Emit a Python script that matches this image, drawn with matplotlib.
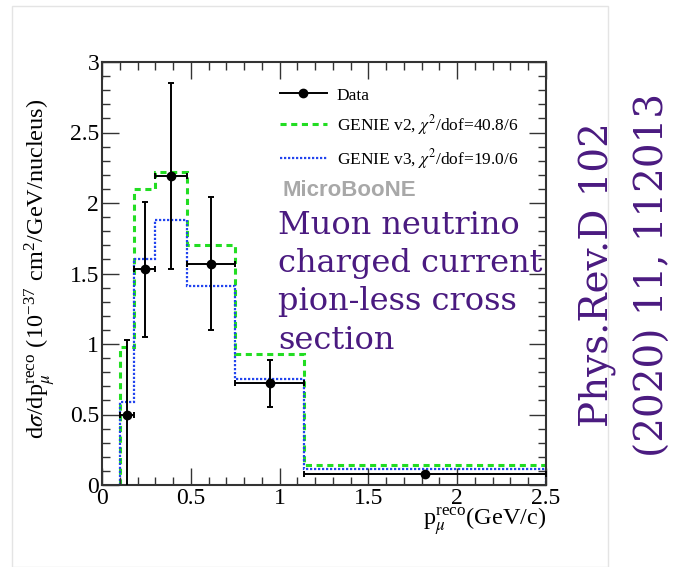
import numpy as np
import matplotlib.pyplot as plt
from matplotlib.lines import Line2D
from matplotlib.patches import Rectangle

plt.rcParams['mathtext.fontset'] = 'stix'

# bin edges in reconstructed muon momentum (GeV/c)
edges = [0.1, 0.18, 0.3, 0.48, 0.75, 1.14, 2.5]
# measured cross section and its uncertainty
data_y = [0.50, 1.53, 2.19, 1.57, 0.72, 0.075]
data_err = [0.53, 0.48, 0.66, 0.47, 0.165, 0.01]
# generator predictions
genie_v2 = [0.98, 2.10, 2.22, 1.70, 0.93, 0.14]
genie_v3 = [0.59, 1.60, 1.88, 1.41, 0.75, 0.11]

edges_a = np.array(edges)
centers = 0.5 * (edges_a[1:] + edges_a[:-1])
half_w = 0.5 * (edges_a[1:] - edges_a[:-1])

purple = '#4a1a80'
serif = 'Liberation Serif'

fig = plt.figure(figsize=(6.84, 5.67), dpi=100)
W, H = 684, 567

# faint frame around the plot
fig.patches.append(Rectangle((12 / W, 0), (608 - 12) / W, (567 - 6) / H,
                             transform=fig.transFigure, fill=False,
                             edgecolor='#e4e4e4', linewidth=1.0))

ax = fig.add_axes([102 / W, (H - 485) / H, (546 - 102) / W, (485 - 62) / H])

ax.stairs(genie_v2, edges, color='#22dd22', linestyle=(0, (2, 1.5)), linewidth=2.2)
ax.stairs(genie_v3, edges, color='#2244ee', linestyle=(0, (1, 0.8)), linewidth=1.6)
ax.errorbar(centers, data_y, xerr=half_w, yerr=data_err, fmt='o', color='black',
            markersize=6, linewidth=1.4, capsize=2.5, capthick=1.4, zorder=5)

ax.set_xlim(0, 2.5)
ax.set_ylim(0, 3)
ax.set_xticks([0, 0.5, 1, 1.5, 2, 2.5])
ax.set_xticklabels(['0', '0.5', '1', '1.5', '2', '2.5'])
ax.set_yticks([0, 0.5, 1, 1.5, 2, 2.5, 3])
ax.set_yticklabels(['0', '0.5', '1', '1.5', '2', '2.5', '3'])
ax.set_xticks(np.arange(0, 2.51, 0.1), minor=True)
ax.set_yticks(np.arange(0, 3.01, 0.1), minor=True)
ax.tick_params(which='both', direction='in', top=True, right=True, width=1.0,
               color='#333333')
ax.tick_params(which='major', length=12, labelsize=17, pad=2)
ax.tick_params(which='minor', length=6)
for lab in ax.get_xticklabels() + ax.get_yticklabels():
    lab.set_fontfamily(serif)
for sp in ax.spines.values():
    sp.set_linewidth(1.5)
    sp.set_color('#333333')

ax.set_ylabel(r'd$\sigma$/dp$_{\mu}^{\mathregular{reco}}$ (10$^{\mathregular{-37}}$ cm$^{\mathregular{2}}$/GeV/nucleus)',
              fontfamily=serif, fontsize=17.5)
ax.yaxis.set_label_coords(-0.10, 0.51)
fig.text(546 / W, 1 - 522 / H, r'p$_{\mu}^{\mathregular{reco}}$(GeV/c)', ha='right', va='center',
         fontfamily=serif, fontsize=17.5)

# legend
handles = [Line2D([], [], color='black', marker='o', markersize=6, linewidth=1.4),
           Line2D([], [], color='#22dd22', linestyle=(0, (2, 1.5)), linewidth=2.2),
           Line2D([], [], color='#2244ee', linestyle=(0, (1, 0.8)), linewidth=1.6)]
labels = ['Data', r'GENIE v2, $\chi^{2}$/dof=40.8/6', r'GENIE v3, $\chi^{2}$/dof=19.0/6']
ax.legend(handles, labels, loc='upper left', bbox_to_anchor=(0.40, 0.94), frameon=False,
          prop={'family': serif, 'size': 12.5}, handlelength=2.75, labelspacing=0.55,
          handletextpad=0.55, borderpad=0, borderaxespad=0)

fig.text(283 / W, 1 - 190 / H, 'MicroBooNE', color='#a8a8a8', fontweight='bold',
         fontfamily='Liberation Sans', fontsize=16, va='center', ha='left')
fig.text(278 / W, 1 - 210 / H, 'Muon neutrino\ncharged current\npion-less cross\nsection',
         color=purple, fontfamily='DejaVu Serif', fontsize=23, va='top', ha='left',
         linespacing=1.3)
fig.text(625 / W, 1 - 275 / H, 'Phys.Rev.D 102\n(2020) 11, 112013', color=purple,
         fontfamily='DejaVu Serif', fontsize=28, rotation=90, va='center', ha='center',
         linespacing=1.62, multialignment='center')

fig.savefig('out.png', dpi=100)
